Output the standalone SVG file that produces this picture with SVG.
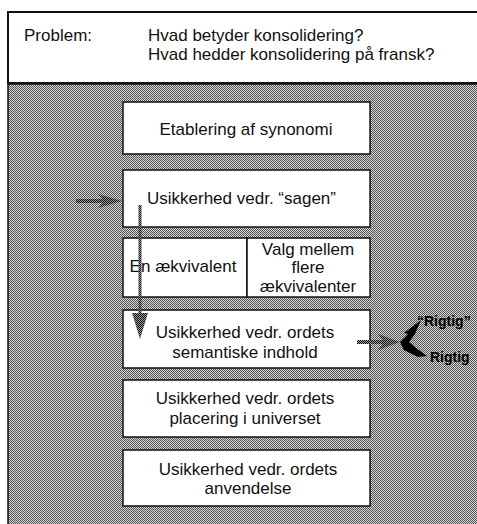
<svg xmlns="http://www.w3.org/2000/svg" width="477" height="524" viewBox="0 0 477 524">
  <defs>
    <!-- dithered grey screen used for the background panel -->
    <pattern id="screen" width="2" height="2" patternUnits="userSpaceOnUse">
      <rect width="2" height="2" fill="#d4d4d4"/>
      <rect width="1" height="1" fill="#555555"/>
      <rect x="1" y="1" width="1" height="1" fill="#555555"/>
    </pattern>
    <!-- coarser dotted texture for the arrows -->
    <pattern id="dots" width="2" height="2" patternUnits="userSpaceOnUse">
      <rect width="2" height="2" fill="#9a9a9a"/>
      <rect width="1" height="1" fill="#111"/>
      <rect x="1" y="1" width="1" height="1" fill="#111"/>
    </pattern>
  </defs>
  <style>
    text { font-family: "Liberation Sans", Arial, sans-serif; font-size: 17px; fill: #111; }
    .c { text-anchor: middle; }
    .box { fill: #ffffff; stroke: #111; stroke-width: 1.5; }
    .bold { font-weight: bold; font-size: 14px; fill: #000; }
  </style>

  <rect width="477" height="524" fill="#ffffff"/>

  <!-- header -->
  <g id="header">
    <rect x="8" y="12" width="475" height="71" fill="#ffffff" stroke="#111" stroke-width="2"/>
    <text x="24" y="41">Problem:</text>
    <text x="148" y="41">Hvad betyder konsolidering?</text>
    <text x="148" y="60">Hvad hedder konsolidering på fransk?</text>
  </g>

  <!-- shaded panel -->
  <rect x="8" y="84" width="475" height="445" fill="url(#screen)" stroke="#111" stroke-width="1.5"/>

  <g id="n1">
    <rect class="box" x="123" y="102" width="247" height="52"/>
    <text class="c" x="246" y="135">Etablering af synonomi</text>
  </g>
  <g id="n2">
    <rect class="box" x="123" y="170" width="247" height="57"/>
    <text x="147" y="204">Usikkerhed vedr. “sagen”</text>
  </g>
  <g id="n3a">
    <rect class="box" x="123" y="238" width="124" height="59"/>
    <text class="c" x="183" y="272">En ækvivalent</text>
  </g>
  <g id="n3b">
    <rect class="box" x="247" y="238" width="123" height="59"/>
    <text class="c" x="308" y="255">Valg mellem</text>
    <text class="c" x="308" y="273">flere</text>
    <text class="c" x="308" y="292">ækvivalenter</text>
  </g>
  <g id="n4">
    <rect class="box" x="123" y="310" width="247" height="58"/>
    <text class="c" x="245" y="338">Usikkerhed vedr. ordets</text>
    <text class="c" x="245" y="358">semantiske indhold</text>
  </g>
  <g id="n5">
    <rect class="box" x="123" y="380" width="247" height="57"/>
    <text class="c" x="245" y="404">Usikkerhed vedr. ordets</text>
    <text class="c" x="245" y="424">placering i universet</text>
  </g>
  <g id="n6">
    <rect class="box" x="123" y="450" width="247" height="56"/>
    <text class="c" x="248" y="475">Usikkerhed vedr. ordets</text>
    <text class="c" x="248" y="494">anvendelse</text>
  </g>

  <g id="connectors">
    <!-- incoming arrow to "sagen" -->
    <rect x="76" y="199" width="28" height="4" fill="url(#dots)"/>
    <path d="M98,194 L122,201 L98,208 L104,201 Z" fill="url(#dots)"/>
    <!-- vertical line down to the semantic box -->
    <rect x="138.5" y="205" width="3" height="110" fill="url(#dots)"/>
    <path d="M132,313 L148,313 L140,339 Z" fill="url(#dots)"/>
    <!-- arrow out of the semantic box -->
    <rect x="357" y="340" width="28" height="4" fill="url(#dots)"/>
    <path d="M378,334 L400,342 L378,350 L384,342 Z" fill="url(#dots)"/>
    <!-- fork towards the two answers -->
    <path d="M400,342 L408,334 L404,333 L421,320 L415,334 L409,342 L416,348 L427,356 L418,357 L404,350 Z" fill="#000"/>
  </g>

  <g id="labels">
    <text class="bold" x="417" y="326">“Rigtig”</text>
    <text class="bold" x="430" y="362">Rigtig</text>
  </g>
</svg>
